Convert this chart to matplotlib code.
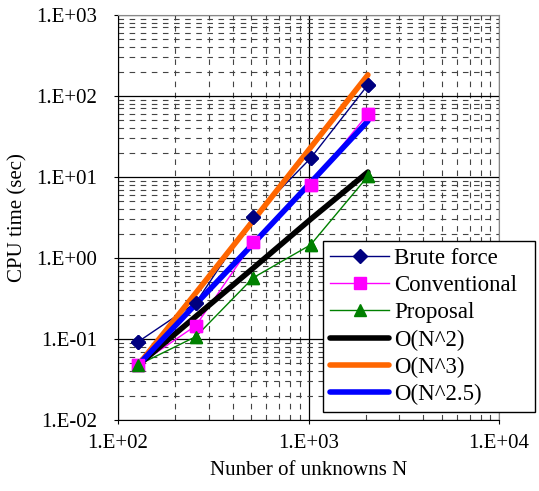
import matplotlib
matplotlib.use("Agg")
import matplotlib.pyplot as plt
from matplotlib.ticker import LogLocator, FixedLocator, NullFormatter, FixedFormatter

plt.rcParams['font.family'] = ['Liberation Serif', 'DejaVu Serif']

N = [128, 256, 512, 1024, 2048]
brute = [0.093, 0.28, 3.2, 17, 137]
conventional = [0.048, 0.146, 1.56, 8.0, 60]
proposal = [0.048, 0.107, 0.57, 1.45, 10.2]
o_n2 = [0.048, 0.19, 0.75, 3.0, 11.5]
o_n3 = [0.048, 0.37, 2.9, 23, 182]
o_n25 = [0.048, 0.27, 1.5, 8.5, 49]

xticks = [1e2, 1e3, 1e4]
xlabels = ['1.E+02', '1.E+03', '1.E+04']
yticks = [1e-2, 1e-1, 1e0, 1e1, 1e2, 1e3]
ylabels = ['1.E-02', '1.E-01', '1.E+00', '1.E+01', '1.E+02', '1.E+03']

fig = plt.figure(figsize=(5.39, 4.91), dpi=100)
ax = fig.add_axes([0.219, 0.1446, 0.707, 0.825])
ax.set_xscale('log')
ax.set_yscale('log')
ax.set_xlim(1e2, 1e4)
ax.set_ylim(1e-2, 1e3)

fs = 15
ax.xaxis.set_major_locator(FixedLocator(xticks))
ax.xaxis.set_major_formatter(FixedFormatter(xlabels))
ax.yaxis.set_major_locator(FixedLocator(yticks))
ax.yaxis.set_major_formatter(FixedFormatter(ylabels))
ax.xaxis.set_minor_locator(LogLocator(base=10, subs=range(2, 10)))
ax.yaxis.set_minor_locator(LogLocator(base=10, subs=range(2, 10)))
ax.xaxis.set_minor_formatter(NullFormatter())
ax.yaxis.set_minor_formatter(NullFormatter())
ax.tick_params(axis='x', which='major', labelsize=fs, length=3, direction='out', pad=7)
ax.tick_params(axis='y', which='major', labelsize=fs, length=3, direction='out', pad=12)
ax.tick_params(which='minor', length=0)

ax.grid(which='major', color='black', linewidth=0.9, linestyle='-')
ax.grid(which='minor', color='#444444', linewidth=0.8, linestyle=(0, (5, 5)))
ax.set_axisbelow(True)

for s in ['top', 'right']:
    ax.spines[s].set_color('#888888')
for s in ['left', 'bottom']:
    ax.spines[s].set_color('black')

navy = '#000080'
mag = '#FF00FF'
grn = '#008000'

l1, = ax.plot(N, brute, color=navy, lw=1.0, marker='D', ms=7, mfc=navy, mec=navy, zorder=3, label='Brute force')
l2, = ax.plot(N, conventional, color=mag, lw=1.0, marker='s', ms=9, mfc=mag, mec=mag, zorder=3, label='Conventional')
l3, = ax.plot(N, proposal, color=grn, lw=1.0, marker='^', ms=9, mfc=grn, mec=grn, zorder=3, label='Proposal')
l4, = ax.plot(N, o_n2, color='black', lw=4, zorder=4, label='O(N^2)', solid_capstyle='round')
l5, = ax.plot(N, o_n3, color='#FF6600', lw=4, zorder=4, label='O(N^3)', solid_capstyle='round')
l6, = ax.plot(N, o_n25, color='#0000FF', lw=4, zorder=4, label='O(N^2.5)', solid_capstyle='round')

ax.plot(N, brute, ls='none', marker='D', ms=7, mfc=navy, mec=navy, zorder=5)
ax.plot(N, conventional, ls='none', marker='s', ms=9, mfc=mag, mec=mag, zorder=5)
ax.plot(N, proposal, ls='none', marker='^', ms=9, mfc=grn, mec=grn, zorder=5)

ax.set_xlabel('Nunber of unknowns N', fontsize=fs, labelpad=6)
ax.set_ylabel('CPU time (sec)', fontsize=fs, labelpad=6)

leg = fig.legend(handles=[l1, l2, l3, l4, l5, l6], loc='upper left',
                 bbox_to_anchor=(0.599, 0.167, 0.394, 0.342), mode='expand',
                 fontsize=16.5, frameon=True, fancybox=False, framealpha=1,
                 edgecolor='black', handlelength=2.6, handletextpad=0.2,
                 borderpad=0.3, labelspacing=0.27, borderaxespad=0)
leg.get_frame().set_linewidth(1.0)
leg.set_zorder(10)

fig.savefig('out.png', dpi=100)
